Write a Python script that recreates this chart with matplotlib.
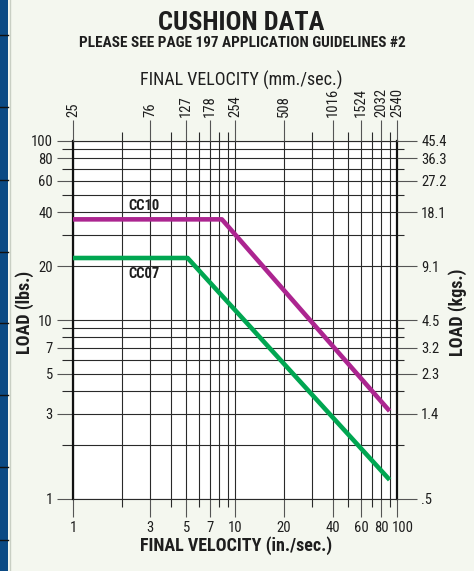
import matplotlib
matplotlib.use("Agg")
import matplotlib.pyplot as plt
from matplotlib.patches import Rectangle
from matplotlib.lines import Line2D
from matplotlib.transforms import ScaledTranslation

W, H = 474, 571
FONT = ['Roboto Condensed', 'DejaVu Sans']
plt.rcParams['font.family'] = FONT

# axis ticks
vel_in_ticks = [1, 3, 5, 7, 10, 20, 40, 60, 80, 100]
vel_in_labels = ['1', '3', '5', '7', '10', '20', '40', '60', '80', '100']
vel_mm_labels = ['25', '76', '127', '178', '254', '508', '1016', '1524', '2032', '2540']
load_lbs_ticks = [1, 3, 5, 7, 10, 20, 40, 60, 80, 100]
load_lbs_labels = ['1', '3', '5', '7', '10', '20', '40', '60', '80', '100']
load_kg_labels = ['.5', '1.4', '2.3', '3.2', '4.5', '9.1', '18.1', '27.2', '36.3', '45.4']
minor_ticks = [2, 4, 6, 8, 9, 30, 50, 70, 90]

# cushion curves (in./sec. vs lbs.)
cc10_vel = [1, 8.3, 90]
cc10_load = [36.5, 36.5, 3.1]
cc07_vel = [1, 5.1, 90]
cc07_load = [22.2, 22.2, 1.28]

BG = '#f4f7ef'
GRID = '#2a2a2a'
TXT = '#1e1e1e'

fig = plt.figure(figsize=(W / 100, H / 100), dpi=100, facecolor=BG)

# blue strip on the left
fig.patches.append(Rectangle((0, 0), 8 / W, 1, transform=fig.transFigure,
                             facecolor='#0b4a84', edgecolor='none'))
fig.lines.append(Line2D([9.5 / W, 9.5 / W], [0, 1], transform=fig.transFigure,
                        color='#c9cfc4', lw=1))
for yy in [35, 107, 180, 252, 323, 395, 467, 540]:
    fig.lines.append(Line2D([0, 8 / W], [1 - yy / H, 1 - yy / H],
                            transform=fig.transFigure, color='#111111', lw=1))

x0, x1, y0, y1 = 73, 397, 141, 499
ax = fig.add_axes([x0 / W, 1 - y1 / H, (x1 - x0) / W, (y1 - y0) / H])
ax.set_facecolor('white')
ax.set_xscale('log')
ax.set_yscale('log')
ax.set_xlim(1, 100)
ax.set_ylim(1, 100)

ax.set_xticks(vel_in_ticks, vel_in_labels)
ax.set_xticks(minor_ticks, [''] * len(minor_ticks), minor=True)
ax.set_yticks(load_lbs_ticks, load_lbs_labels)
ax.set_yticks(minor_ticks, [''] * len(minor_ticks), minor=True)
ax.grid(True, which='both', color=GRID, lw=0.8)

ax.tick_params(axis='x', which='major', direction='out', length=13, width=0.8,
               color='#555555', pad=3, labelsize=10.5, labelcolor=TXT)
ax.tick_params(axis='x', which='minor', direction='out', length=6, width=0.8,
               color=GRID)
ax.tick_params(axis='y', which='major', direction='out', length=11.5, width=0.8,
               color='#555555', pad=3, labelsize=10.5, labelcolor=TXT)
ax.tick_params(axis='y', which='minor', direction='out', length=8, width=0.8,
               color=GRID)
# the "100" label sits a little to the right of its line
last = ax.get_xticklabels()[-1]
last.set_transform(last.get_transform() + ScaledTranslation(0.06, 0, fig.dpi_scale_trans))

for s in ['left', 'right']:
    ax.spines[s].set_linewidth(1.6)
    ax.spines[s].set_color('#111111')
for s in ['top', 'bottom']:
    ax.spines[s].set_linewidth(0.8)
    ax.spines[s].set_color(GRID)

ax.plot(cc10_vel, cc10_load, color='#ac2590', lw=3.3, solid_capstyle='butt', zorder=3)
ax.plot(cc07_vel, cc07_load, color='#00a651', lw=3.3, solid_capstyle='butt', zorder=3)
ax.text(2.2, 39.5, 'CC10', fontsize=10.5, fontweight='bold', color=TXT,
        ha='left', va='bottom')
ax.text(2.2, 19.8, 'CC07', fontsize=10.5, fontweight='bold', color=TXT,
        ha='left', va='top')

# top axis: mm./sec.
axt = ax.twiny()
axt.set_xscale('log')
axt.set_xlim(1, 100)
axt.set_xticks(vel_in_ticks, vel_mm_labels, rotation=90)
axt.set_xticks(minor_ticks, [''] * len(minor_ticks), minor=True)
axt.tick_params(axis='x', which='major', direction='out', length=15, width=0.8,
                color='#555555', pad=2, labelsize=10.5, labelcolor=TXT)
axt.tick_params(axis='x', which='minor', direction='out', length=6.5, width=0.8,
                color=GRID)
for s in axt.spines.values():
    s.set_visible(False)

# right axis: kgs.
axr = ax.twinx()
axr.set_yscale('log')
axr.set_ylim(1, 100)
axr.set_yticks(load_lbs_ticks, load_kg_labels)
axr.set_yticks(minor_ticks, [''] * len(minor_ticks), minor=True)
axr.tick_params(axis='y', which='major', direction='out', length=14.5, width=0.8,
                color='#555555', pad=3, labelsize=10.5, labelcolor=TXT)
axr.tick_params(axis='y', which='minor', direction='out', length=5, width=0.8,
                color=GRID)
for s in axr.spines.values():
    s.set_visible(False)

# texts
fig.text(241 / W, 1 - 23 / H, 'CUSHION DATA', ha='center', va='center',
         fontsize=19, fontweight='bold', color=TXT)
fig.text(242 / W, 1 - 43 / H, 'PLEASE SEE PAGE 197 APPLICATION GUIDELINES #2',
         ha='center', va='center', fontsize=11, fontweight='bold', color=TXT)
fig.text(241 / W, 1 - 80 / H, 'FINAL VELOCITY (mm./sec.)', ha='center', va='center',
         fontsize=13, color=TXT)
fig.text(236 / W, 1 - 546 / H, 'FINAL VELOCITY (in./sec.)', ha='center', va='center',
         fontsize=13, fontweight='bold', color=TXT)
fig.text(25 / W, 1 - 312 / H, 'LOAD (lbs.)', ha='center', va='center', rotation=90,
         fontsize=13, fontweight='bold', color=TXT)
fig.text(458 / W, 1 - 312 / H, 'LOAD (kgs.)', ha='center', va='center', rotation=90,
         fontsize=13, fontweight='bold', color=TXT)

fig.savefig('out.png', dpi=100, facecolor=BG)
